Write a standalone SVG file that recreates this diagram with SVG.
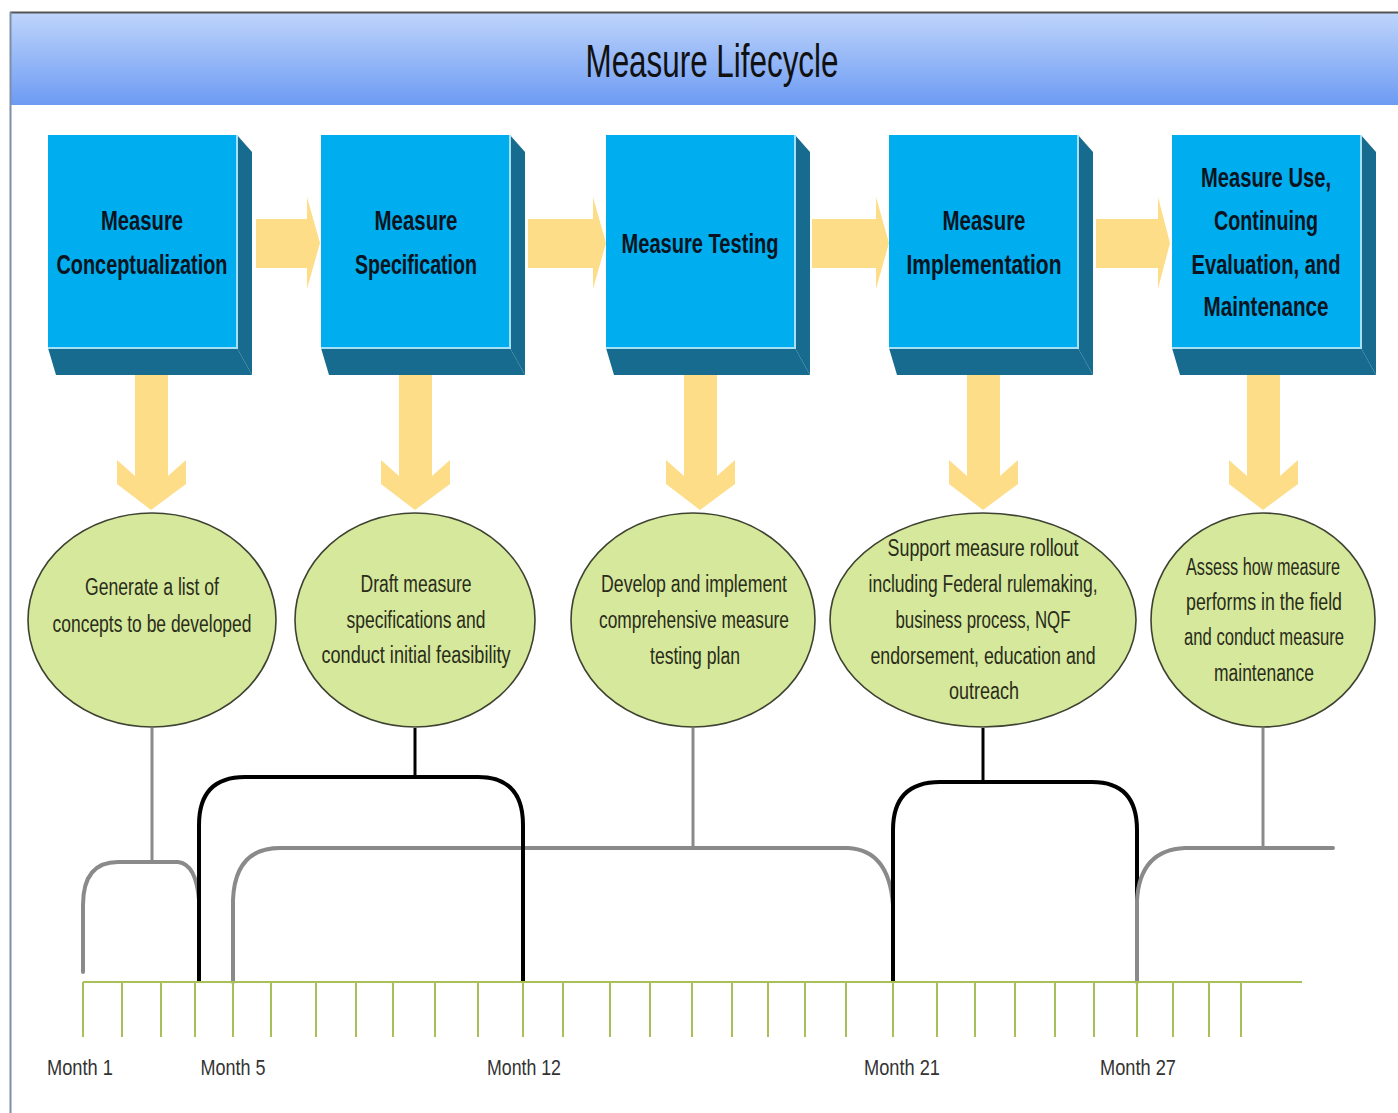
<svg xmlns="http://www.w3.org/2000/svg" width="1398" height="1113" viewBox="0 0 1398 1113">
<defs>
<linearGradient id="tg" x1="0" y1="0" x2="0" y2="1">
<stop offset="0" stop-color="#bfd5fb"/>
<stop offset="1" stop-color="#6d9bf3"/>
</linearGradient>
<style>
.front{fill:#00adee}
.dark{fill:#176b8f}
.hl{fill:none;stroke:#a6e0f7;stroke-width:2}
.arrow{fill:#fddd88}
.bt{font-family:"Liberation Sans Narrow","Liberation Sans",Arial,sans-serif;font-weight:bold;font-size:28px;fill:#0a1420;text-anchor:middle}
.ell{fill:#d5e89c;stroke:#3e4232;stroke-width:1.6}
.et{font-family:"Liberation Sans Narrow","Liberation Sans",Arial,sans-serif;font-size:23px;fill:#2a2c1a;text-anchor:middle}
.gray{fill:none;stroke:#8a8a8a;stroke-width:4;stroke-linecap:round}
.grayv{fill:none;stroke:#8a8a8a;stroke-width:3}
.blk{fill:none;stroke:#000;stroke-width:4}
.blkv{fill:none;stroke:#000;stroke-width:3}
.tl{fill:none;stroke:#a8c05a;stroke-width:2}
.mt{font-family:"Liberation Sans Narrow","Liberation Sans",Arial,sans-serif;font-size:22px;fill:#333;text-anchor:middle}
</style>
</defs>
<rect x="0" y="0" width="1398" height="1113" fill="#fff"/>
<g id="frame">
<rect x="10" y="12" width="1390" height="93" fill="url(#tg)"/>
<line x1="10" y1="12.5" x2="1398" y2="12.5" stroke="#555" stroke-width="2"/>
<line x1="10.5" y1="12" x2="10.5" y2="1113" stroke="#7d8ea8" stroke-width="2"/>
<text x="712" y="77" font-family="'Liberation Sans Narrow','Liberation Sans',Arial,sans-serif" font-size="46" fill="#111" text-anchor="middle" textLength="253" lengthAdjust="spacingAndGlyphs">Measure Lifecycle</text>
</g>

<g id="box1">
<rect class="front" x="48" y="135" width="189" height="213"/>
<polygon class="dark" points="237,135 252,152 252,375 237,348"/>
<polygon class="dark" points="48,348 237,348 252,375 56,375"/>
<polyline class="hl" points="237,135 237,348 48,348"/>
<text class="bt" x="142" y="230" textLength="82" lengthAdjust="spacingAndGlyphs">Measure</text>
<text class="bt" x="142" y="274" textLength="171" lengthAdjust="spacingAndGlyphs">Conceptualization</text>
</g>
<g id="box2">
<rect class="front" x="321" y="135" width="189" height="213"/>
<polygon class="dark" points="510,135 525,152 525,375 510,348"/>
<polygon class="dark" points="321,348 510,348 525,375 329,375"/>
<polyline class="hl" points="510,135 510,348 321,348"/>
<text class="bt" x="416" y="230" textLength="83" lengthAdjust="spacingAndGlyphs">Measure</text>
<text class="bt" x="416" y="274" textLength="122" lengthAdjust="spacingAndGlyphs">Specification</text>
</g>
<g id="box3">
<rect class="front" x="606" y="135" width="189" height="213"/>
<polygon class="dark" points="795,135 810,152 810,375 795,348"/>
<polygon class="dark" points="606,348 795,348 810,375 614,375"/>
<polyline class="hl" points="795,135 795,348 606,348"/>
<text class="bt" x="700" y="253" textLength="157" lengthAdjust="spacingAndGlyphs">Measure Testing</text>
</g>
<g id="box4">
<rect class="front" x="889" y="135" width="189" height="213"/>
<polygon class="dark" points="1078,135 1093,152 1093,375 1078,348"/>
<polygon class="dark" points="889,348 1078,348 1093,375 897,375"/>
<polyline class="hl" points="1078,135 1078,348 889,348"/>
<text class="bt" x="984" y="230" textLength="83" lengthAdjust="spacingAndGlyphs">Measure</text>
<text class="bt" x="984" y="274" textLength="155" lengthAdjust="spacingAndGlyphs">Implementation</text>
</g>
<g id="box5">
<rect class="front" x="1172" y="135" width="189" height="213"/>
<polygon class="dark" points="1361,135 1376,152 1376,375 1361,348"/>
<polygon class="dark" points="1172,348 1361,348 1376,375 1180,375"/>
<polyline class="hl" points="1361,135 1361,348 1172,348"/>
<text class="bt" x="1266" y="187" textLength="130" lengthAdjust="spacingAndGlyphs">Measure Use,</text>
<text class="bt" x="1266" y="230" textLength="104" lengthAdjust="spacingAndGlyphs">Continuing</text>
<text class="bt" x="1266" y="274" textLength="149" lengthAdjust="spacingAndGlyphs">Evaluation, and</text>
<text class="bt" x="1266" y="316" textLength="125" lengthAdjust="spacingAndGlyphs">Maintenance</text>
</g>

<g id="arrows">
<polygon class="arrow" points="256,219 307,219 307,197 320,243 307,289 307,268 256,268"/>
<polygon class="arrow" points="528,219 593,219 593,197 606,243 593,289 593,268 528,268"/>
<polygon class="arrow" points="812,219 876,219 876,197 889,243 876,289 876,268 812,268"/>
<polygon class="arrow" points="1096,219 1158,219 1158,197 1170,243 1158,289 1158,268 1096,268"/>
<polygon class="arrow" points="135,375 168,375 168,476 186,460 186,484 151,510 117,484 117,460 135,476"/>
<polygon class="arrow" points="399,375 432,375 432,476 450,460 450,484 415,510 381,484 381,460 399,476"/>
<polygon class="arrow" points="684,375 717,375 717,476 735,460 735,484 700,510 666,484 666,460 684,476"/>
<polygon class="arrow" points="967,375 1000,375 1000,476 1018,460 1018,484 983,510 949,484 949,460 967,476"/>
<polygon class="arrow" points="1247,375 1280,375 1280,476 1298,460 1298,484 1263,510 1229,484 1229,460 1247,476"/>
</g>

<g id="connectors">
<line class="grayv" x1="152" y1="728" x2="152" y2="862"/>
<line class="blkv" x1="415" y1="728" x2="415" y2="777"/>
<line class="grayv" x1="693" y1="728" x2="693" y2="848"/>
<line class="blkv" x1="983" y1="728" x2="983" y2="782"/>
<line class="grayv" x1="1263" y1="728" x2="1263" y2="848"/>
<path class="gray" d="M83,972 L83,905 Q83,862 118,862 L178,862 Q196,864 199,900"/>
<path class="gray" d="M233,982 L233,900 Q235,848 280,848 L848,848 Q889,850 893,905"/>
<path class="blk" d="M199,982 L199,825 Q199,777 245,777 L478,777 Q523,777 523,825 L523,982"/>
<path class="blk" d="M893,982 L893,830 Q893,782 940,782 L1092,782 Q1137,782 1137,830 L1137,900"/>
<path class="gray" d="M1137,982 L1137,900 Q1140,850 1185,848 L1333,848"/>
</g>

<g id="ellipse1">
<ellipse class="ell" cx="152" cy="620" rx="124" ry="107"/>
<text class="et" x="152" y="595" textLength="134" lengthAdjust="spacingAndGlyphs">Generate a list of</text>
<text class="et" x="152" y="632" textLength="199" lengthAdjust="spacingAndGlyphs">concepts to be developed</text>
</g>
<g id="ellipse2">
<ellipse class="ell" cx="415" cy="620" rx="120" ry="107"/>
<text class="et" x="416" y="592" textLength="111" lengthAdjust="spacingAndGlyphs">Draft measure</text>
<text class="et" x="416" y="628" textLength="139" lengthAdjust="spacingAndGlyphs">specifications and</text>
<text class="et" x="416" y="663" textLength="189" lengthAdjust="spacingAndGlyphs">conduct initial feasibility</text>
</g>
<g id="ellipse3">
<ellipse class="ell" cx="693" cy="620" rx="122" ry="107"/>
<text class="et" x="694" y="592" textLength="186" lengthAdjust="spacingAndGlyphs">Develop and implement</text>
<text class="et" x="694" y="628" textLength="190" lengthAdjust="spacingAndGlyphs">comprehensive measure</text>
<text class="et" x="695" y="664" textLength="90" lengthAdjust="spacingAndGlyphs">testing plan</text>
</g>
<g id="ellipse4">
<ellipse class="ell" cx="983" cy="620" rx="153" ry="107"/>
<text class="et" x="983" y="556" textLength="191" lengthAdjust="spacingAndGlyphs">Support measure rollout</text>
<text class="et" x="983" y="592" textLength="229" lengthAdjust="spacingAndGlyphs">including Federal rulemaking,</text>
<text class="et" x="983" y="628" textLength="175" lengthAdjust="spacingAndGlyphs">business process, NQF</text>
<text class="et" x="983" y="664" textLength="225" lengthAdjust="spacingAndGlyphs">endorsement, education and</text>
<text class="et" x="984" y="699" textLength="70" lengthAdjust="spacingAndGlyphs">outreach</text>
</g>
<g id="ellipse5">
<ellipse class="ell" cx="1263" cy="620" rx="112" ry="107"/>
<text class="et" x="1263" y="575" textLength="154" lengthAdjust="spacingAndGlyphs">Assess how measure</text>
<text class="et" x="1264" y="610" textLength="156" lengthAdjust="spacingAndGlyphs">performs in the field</text>
<text class="et" x="1264" y="645" textLength="160" lengthAdjust="spacingAndGlyphs">and conduct measure</text>
<text class="et" x="1264" y="681" textLength="100" lengthAdjust="spacingAndGlyphs">maintenance</text>
</g>

<g id="timeline">
<line class="tl" x1="83" y1="982" x2="1302" y2="982"/>
<path class="tl" d="M83,982V1037 M122,982V1037 M161,982V1037 M195,982V1037 M233,982V1037 M271,982V1037 M316,982V1037 M356,982V1037 M393,982V1037 M435,982V1037 M478,982V1037 M523,982V1037 M563,982V1037 M610,982V1037 M650,982V1037 M692,982V1037 M732,982V1037 M768,982V1037 M805,982V1037 M846,982V1037 M893,982V1037 M937,982V1037 M975,982V1037 M1015,982V1037 M1055,982V1037 M1094,982V1037 M1137,982V1037 M1173,982V1037 M1209,982V1037 M1241,982V1037"/>
<text class="mt" x="80" y="1075" textLength="66" lengthAdjust="spacingAndGlyphs">Month 1</text>
<text class="mt" x="233" y="1075" textLength="65" lengthAdjust="spacingAndGlyphs">Month 5</text>
<text class="mt" x="524" y="1075" textLength="74" lengthAdjust="spacingAndGlyphs">Month 12</text>
<text class="mt" x="902" y="1075" textLength="76" lengthAdjust="spacingAndGlyphs">Month 21</text>
<text class="mt" x="1138" y="1075" textLength="76" lengthAdjust="spacingAndGlyphs">Month 27</text>
</g>
</svg>
